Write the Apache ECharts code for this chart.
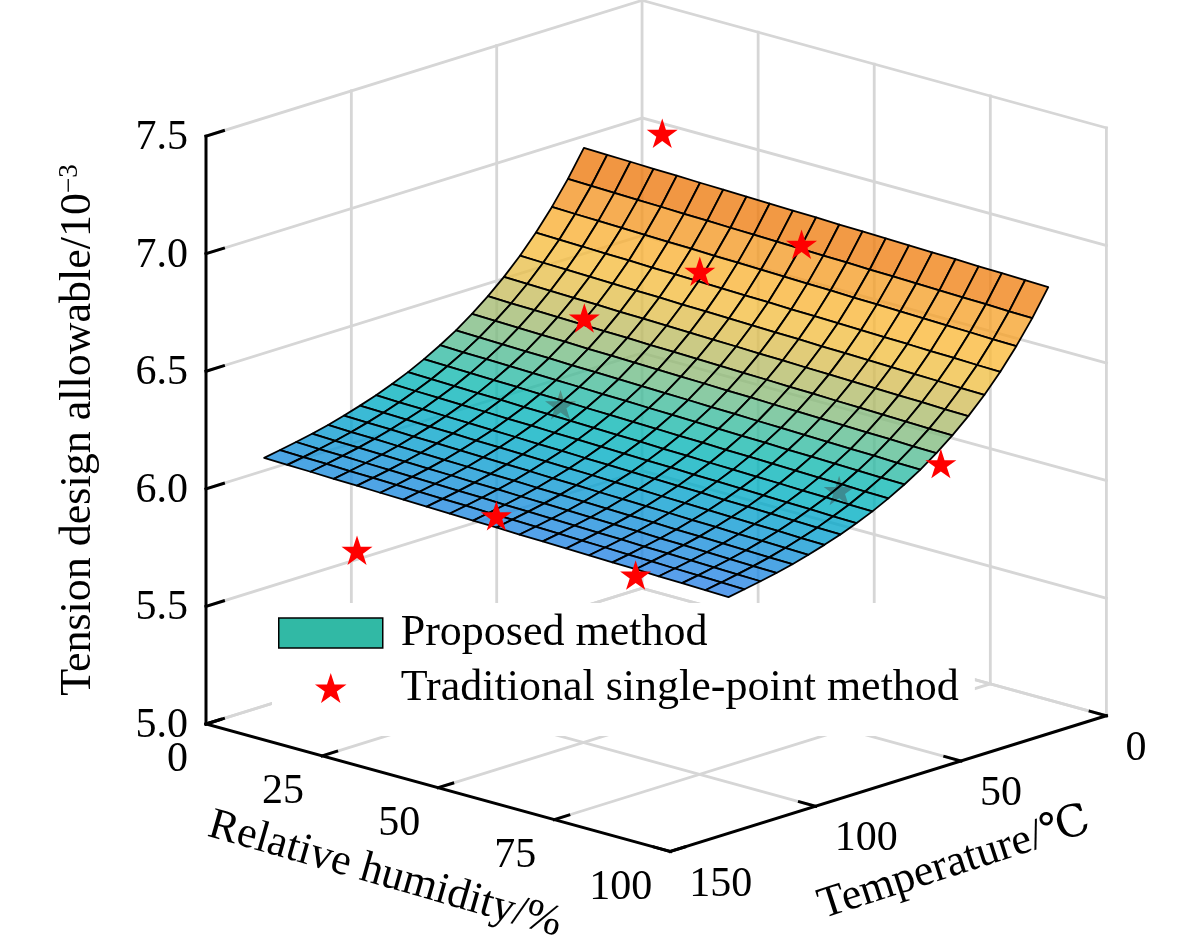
<!DOCTYPE html>
<html>
<head>
<meta charset="utf-8">
<title>Tension design allowable surface</title>
<script src="https://cdn.jsdelivr.net/npm/echarts@6/dist/echarts.min.js"></script>
<style>
html, body { margin: 0; padding: 0; background: #fff; }
#main { width: 1181px; height: 952px; }
</style>
</head>
<body>
<div id="main"></div>
<script>
// ---- data ----
var humidityTicks = [0, 25, 50, 75, 100];
var temperatureTicks = [0, 50, 100, 150];
var allowableTicks = [5.0, 5.5, 6.0, 6.5, 7.0, 7.5];

// surface grid (Proposed method): columns = relative humidity, rows = temperature
var humidityGrid = [0, 5, 10, 15, 20, 25, 30, 35, 40, 45, 50, 55, 60, 65, 70, 75, 80, 85, 90, 95, 100];
var temperatureGrid = [20, 25.5, 31, 36.5, 42, 47.5, 53, 58.5, 64, 69.5, 75, 80.5, 86, 91.5, 97, 102.5, 108, 113.5, 119, 124.5, 130];
var allowableSurface = [
  [6.950,6.947,6.945,6.942,6.940,6.937,6.935,6.932,6.930,6.927,6.925,6.922,6.920,6.917,6.915,6.912,6.910,6.907,6.905,6.902,6.900],
  [6.839,6.836,6.834,6.831,6.829,6.826,6.824,6.821,6.819,6.816,6.814,6.811,6.809,6.806,6.804,6.801,6.799,6.796,6.794,6.791,6.789],
  [6.741,6.738,6.736,6.733,6.731,6.728,6.726,6.723,6.721,6.718,6.716,6.713,6.711,6.708,6.706,6.703,6.701,6.698,6.696,6.693,6.691],
  [6.653,6.650,6.648,6.645,6.643,6.640,6.638,6.635,6.633,6.630,6.628,6.625,6.623,6.620,6.618,6.615,6.613,6.610,6.608,6.605,6.603],
  [6.576,6.573,6.571,6.568,6.566,6.563,6.561,6.558,6.556,6.553,6.551,6.548,6.546,6.543,6.541,6.538,6.536,6.533,6.531,6.528,6.526],
  [6.507,6.504,6.502,6.499,6.497,6.494,6.492,6.489,6.487,6.484,6.482,6.479,6.477,6.474,6.472,6.469,6.467,6.464,6.462,6.459,6.457],
  [6.446,6.443,6.441,6.438,6.436,6.433,6.431,6.428,6.426,6.423,6.421,6.418,6.416,6.413,6.411,6.408,6.406,6.403,6.401,6.398,6.396],
  [6.392,6.389,6.387,6.384,6.382,6.379,6.377,6.374,6.372,6.369,6.367,6.364,6.362,6.359,6.357,6.354,6.352,6.349,6.347,6.344,6.342],
  [6.343,6.340,6.338,6.335,6.333,6.330,6.328,6.325,6.323,6.320,6.318,6.315,6.313,6.310,6.308,6.305,6.303,6.300,6.298,6.295,6.293],
  [6.301,6.298,6.296,6.293,6.291,6.288,6.286,6.283,6.281,6.278,6.276,6.273,6.271,6.268,6.266,6.263,6.261,6.258,6.256,6.253,6.251],
  [6.263,6.260,6.258,6.255,6.253,6.250,6.248,6.245,6.243,6.240,6.238,6.235,6.233,6.230,6.228,6.225,6.223,6.220,6.218,6.215,6.213],
  [6.229,6.226,6.224,6.221,6.219,6.216,6.214,6.211,6.209,6.206,6.204,6.201,6.199,6.196,6.194,6.191,6.189,6.186,6.184,6.181,6.179],
  [6.200,6.197,6.195,6.192,6.190,6.187,6.185,6.182,6.180,6.177,6.175,6.172,6.170,6.167,6.165,6.162,6.160,6.157,6.155,6.152,6.150],
  [6.173,6.170,6.168,6.165,6.163,6.160,6.158,6.155,6.153,6.150,6.148,6.145,6.143,6.140,6.138,6.135,6.133,6.130,6.128,6.125,6.123],
  [6.150,6.147,6.145,6.142,6.140,6.137,6.135,6.132,6.130,6.127,6.125,6.122,6.120,6.117,6.115,6.112,6.110,6.107,6.105,6.102,6.100],
  [6.129,6.126,6.124,6.121,6.119,6.116,6.114,6.111,6.109,6.106,6.104,6.101,6.099,6.096,6.094,6.091,6.089,6.086,6.084,6.081,6.079],
  [6.110,6.107,6.105,6.102,6.100,6.097,6.095,6.092,6.090,6.087,6.085,6.082,6.080,6.077,6.075,6.072,6.070,6.067,6.065,6.062,6.060],
  [6.094,6.091,6.089,6.086,6.084,6.081,6.079,6.076,6.074,6.071,6.069,6.066,6.064,6.061,6.059,6.056,6.054,6.051,6.049,6.046,6.044],
  [6.080,6.077,6.075,6.072,6.070,6.067,6.065,6.062,6.060,6.057,6.055,6.052,6.050,6.047,6.045,6.042,6.040,6.037,6.035,6.032,6.030],
  [6.067,6.064,6.062,6.059,6.057,6.054,6.052,6.049,6.047,6.044,6.042,6.039,6.037,6.034,6.032,6.029,6.027,6.024,6.022,6.019,6.017],
  [6.055,6.052,6.050,6.047,6.045,6.042,6.040,6.037,6.035,6.032,6.030,6.027,6.025,6.022,6.020,6.017,6.015,6.012,6.010,6.007,6.005]
];

// Traditional single-point method
var pointHumidity = [20, 50, 80, 20, 50, 80, 20, 50, 80, 22];
var pointTemperature = [25, 25, 25, 60, 60, 60, 130, 130, 130, 55];
var pointAllowable = [7.14, 6.83, 6.06, 6.12, 6.85, 6.08, 5.77, 6.08, 5.99, 6.48];

// ---- view (orthographic, like a matlab view) ----
var AZ = 43.2 * Math.PI / 180;
var EL = 17 * Math.PI / 180;
var BOX_H = 0.965;
var SCALE = 637;            // px per box side
var ORIGIN_PX = [206, 724]; // where the (0 %, 150 C, 5.0) corner sits
var W = 1181, H = 952;
var FACE_ALPHA = 0.78;

var HUM_MIN = humidityTicks[0], HUM_MAX = humidityTicks[humidityTicks.length - 1];
var TEMP_MIN = temperatureTicks[0], TEMP_MAX = temperatureTicks[temperatureTicks.length - 1];
var VAL_MIN = allowableTicks[0], VAL_MAX = allowableTicks[allowableTicks.length - 1];

var FONT = '"Times New Roman", "Liberation Serif", "DejaVu Serif", "Noto Sans CJK SC", serif';
var STAR = 'path://M0,-10L2.245,-3.09L9.511,-3.09L3.633,1.18L5.878,8.09L0,3.82L-5.878,8.09L-3.633,1.18L-9.511,-3.09L-2.245,-3.09Z';

function norm(h, t, v) {
	return [(h - HUM_MIN) / (HUM_MAX - HUM_MIN), (t - TEMP_MIN) / (TEMP_MAX - TEMP_MIN), (v - VAL_MIN) / (VAL_MAX - VAL_MIN)];
}
function project(h, t, v) {
	var n = norm(h, t, v);
	var a = n[0] * Math.sin(AZ) + n[1] * Math.cos(AZ);
	return [n[0] * Math.cos(AZ) - n[1] * Math.sin(AZ), a * Math.sin(EL) - n[2] * BOX_H * Math.cos(EL)];
}
function depth(h, t, v) {
	var n = norm(h, t, v);
	var a = n[0] * Math.sin(AZ) + n[1] * Math.cos(AZ);
	return a * Math.cos(EL) + n[2] * BOX_H * Math.sin(EL);
}

function surfaceValueAt(h, t) {
	var nh = humidityGrid.length, nt = temperatureGrid.length;
	if (h < humidityGrid[0] || h > humidityGrid[nh - 1] || t < temperatureGrid[0] || t > temperatureGrid[nt - 1]) return null;
	var i = 0, j = 0;
	while (i < nh - 2 && humidityGrid[i + 1] < h) i++;
	while (j < nt - 2 && temperatureGrid[j + 1] < t) j++;
	var fh = (h - humidityGrid[i]) / (humidityGrid[i + 1] - humidityGrid[i]);
	var ft = (t - temperatureGrid[j]) / (temperatureGrid[j + 1] - temperatureGrid[j]);
	var s = allowableSurface;
	return (s[j][i] * (1 - fh) + s[j][i + 1] * fh) * (1 - ft) + (s[j + 1][i] * (1 - fh) + s[j + 1][i + 1] * fh) * ft;
}
// is the point covered by the surface when seen from the viewer?
function behindSurface(h, t, v) {
	var sv0 = surfaceValueAt(h, t);
	if (sv0 === null || v >= sv0) return false;
	for (var s = 0.005; s < 2; s += 0.005) {
		var hh = h + s * Math.cos(EL) * Math.sin(AZ) * (HUM_MAX - HUM_MIN);
		var tt = t + s * Math.cos(EL) * Math.cos(AZ) * (TEMP_MAX - TEMP_MIN);
		var vv = v + s * Math.sin(EL) / BOX_H * (VAL_MAX - VAL_MIN);
		var sv = surfaceValueAt(hh, tt);
		if (sv === null) return false;
		if (vv >= sv) return true;
	}
	return false;
}

// colormap (blue -> teal -> yellow -> orange), drawn with FACE_ALPHA over white
var cmap = [
	[0.00, [46, 129, 233]], [0.06, [24, 142, 219]], [0.11, [8, 158, 208]], [0.17, [0, 174, 195]],
	[0.24, [10, 183, 179]], [0.30, [55, 187, 159]], [0.36, [110, 188, 136]], [0.43, [160, 186, 113]],
	[0.50, [202, 188, 92]], [0.58, [238, 192, 70]], [0.68, [250, 186, 58]], [0.78, [246, 163, 43]],
	[0.88, [240, 133, 23]], [1.00, [233, 106, 1]]
];
var surfMin = Infinity, surfMax = -Infinity;
allowableSurface.forEach(function (row) {
	row.forEach(function (v) { surfMin = Math.min(surfMin, v); surfMax = Math.max(surfMax, v); });
});
function faceColor(v) {
	var f = Math.max(0, Math.min(1, (v - surfMin) / (surfMax - surfMin)));
	for (var k = 1; k < cmap.length; k++) {
		if (f <= cmap[k][0]) {
			var a = cmap[k - 1], b = cmap[k];
			var r = (f - a[0]) / (b[0] - a[0]);
			var c = [0, 1, 2].map(function (q) { return Math.round(a[1][q] + (b[1][q] - a[1][q]) * r); });
			return 'rgba(' + c.join(',') + ',' + FACE_ALPHA + ')';
		}
	}
	return 'rgba(233,106,1,' + FACE_ALPHA + ')';
}

// ---- box: back walls, floor grid, axes ----
var gridSegs = [];
allowableTicks.forEach(function (v) {
	gridSegs.push([HUM_MIN, TEMP_MAX, v, HUM_MIN, TEMP_MIN, v]);
	gridSegs.push([HUM_MIN, TEMP_MIN, v, HUM_MAX, TEMP_MIN, v]);
});
temperatureTicks.forEach(function (t) {
	if (t === TEMP_MAX) return;
	gridSegs.push([HUM_MIN, t, VAL_MIN, HUM_MIN, t, VAL_MAX]);
	gridSegs.push([HUM_MIN, t, VAL_MIN, HUM_MAX, t, VAL_MIN]);
});
humidityTicks.forEach(function (h) {
	if (h !== HUM_MIN) gridSegs.push([h, TEMP_MIN, VAL_MIN, h, TEMP_MIN, VAL_MAX]);
	if (h !== HUM_MAX) gridSegs.push([h, TEMP_MIN, VAL_MIN, h, TEMP_MAX, VAL_MIN]);
});

var axisSegs = [
	[HUM_MIN, TEMP_MAX, VAL_MIN, HUM_MIN, TEMP_MAX, VAL_MAX],
	[HUM_MIN, TEMP_MAX, VAL_MIN, HUM_MAX, TEMP_MAX, VAL_MIN],
	[HUM_MAX, TEMP_MAX, VAL_MIN, HUM_MAX, TEMP_MIN, VAL_MIN]
];
allowableTicks.forEach(function (v) { axisSegs.push([HUM_MIN, TEMP_MAX, v, HUM_MIN, TEMP_MAX - 6, v]); });
humidityTicks.forEach(function (h) { axisSegs.push([h, TEMP_MAX, VAL_MIN, h, TEMP_MAX - 5, VAL_MIN]); });
temperatureTicks.forEach(function (t) { axisSegs.push([HUM_MAX, t, VAL_MIN, HUM_MAX - 3.5, t, VAL_MIN]); });

function segSeries(name, segs, color, width, z) {
	return {
		type: 'custom',
		name: name,
		coordinateSystem: 'cartesian2d',
		silent: true,
		z: z,
		data: segs.map(function (s) {
			var a = project(s[0], s[1], s[2]), b = project(s[3], s[4], s[5]);
			return [a[0], a[1], b[0], b[1]];
		}),
		renderItem: function (params, api) {
			var p1 = api.coord([api.value(0), api.value(1)]);
			var p2 = api.coord([api.value(2), api.value(3)]);
			return {
				type: 'line',
				shape: { x1: p1[0], y1: p1[1], x2: p2[0], y2: p2[1] },
				style: { stroke: color, lineWidth: width, lineCap: 'square' }
			};
		}
	};
}

// ---- surface cells, far ones first ----
var cells = [];
for (var j = 0; j < temperatureGrid.length - 1; j++) {
	for (var i = 0; i < humidityGrid.length - 1; i++) {
		var hc = (humidityGrid[i] + humidityGrid[i + 1]) / 2;
		var tc = (temperatureGrid[j] + temperatureGrid[j + 1]) / 2;
		var vc = (allowableSurface[j][i] + allowableSurface[j][i + 1] + allowableSurface[j + 1][i] + allowableSurface[j + 1][i + 1]) / 4;
		var pc = project(hc, tc, vc);
		cells.push({ d: depth(hc, tc, vc), item: [pc[0], pc[1], i, j] });
	}
}
cells.sort(function (a, b) { return a.d - b.d; });

// ---- stars ----
var starsBack = [], starsFront = [];
pointHumidity.forEach(function (h, k) {
	var p = project(h, pointTemperature[k], pointAllowable[k]);
	if (behindSurface(h, pointTemperature[k], pointAllowable[k])) starsBack.push(p);
	else starsFront.push(p);
});

// ---- texts ----
var labelItems = [];
allowableTicks.forEach(function (v, k) { var p = project(HUM_MIN, TEMP_MAX, v); labelItems.push([p[0], p[1], 0, k]); });
humidityTicks.forEach(function (h, k) { var p = project(h, TEMP_MAX, VAL_MIN); labelItems.push([p[0], p[1], 1, k]); });
temperatureTicks.forEach(function (t, k) { var p = project(HUM_MAX, t, VAL_MIN); labelItems.push([p[0], p[1], 2, k]); });
(function () {
	var p = project(HUM_MIN, TEMP_MAX, (VAL_MIN + VAL_MAX) / 2); labelItems.push([p[0], p[1], 3, 0]);
	p = project((HUM_MIN + HUM_MAX) / 2, TEMP_MAX, VAL_MIN); labelItems.push([p[0], p[1], 4, 0]);
	p = project(HUM_MAX, (TEMP_MIN + TEMP_MAX) / 2, VAL_MIN); labelItems.push([p[0], p[1], 5, 0]);
})();

function renderLabel(params, api) {
	var p = api.coord([api.value(0), api.value(1)]);
	var kind = api.value(2), k = api.value(3);
	var base = { fill: '#000', fontFamily: FONT, fontSize: 42 };
	if (kind === 0) {
		return { type: 'text', x: p[0] - 18, y: p[1] + 2, style: Object.assign(base, { text: allowableTicks[k].toFixed(1), align: 'right', verticalAlign: 'middle' }) };
	}
	if (kind === 1) {
		return { type: 'text', x: p[0] - 18, y: p[1] + 36, style: Object.assign(base, { text: String(humidityTicks[k]), align: 'right', verticalAlign: 'middle' }) };
	}
	if (kind === 2) {
		return { type: 'text', x: p[0] + 19, y: p[1] + 33, style: Object.assign(base, { text: String(temperatureTicks[k]), align: 'left', verticalAlign: 'middle' }) };
	}
	if (kind === 3) {
		return {
			type: 'text', x: p[0] - 128, y: p[1], rotation: Math.PI / 2,
			style: {
				text: '{a|Tension design allowable/10}{b|\u22123}',
				rich: {
					a: { fill: '#000', fontFamily: FONT, fontSize: 44 },
					b: { fill: '#000', fontFamily: FONT, fontSize: 27, verticalAlign: 'top' }
				},
				align: 'center', verticalAlign: 'middle'
			}
		};
	}
	if (kind === 4) {
		return { type: 'text', x: p[0] - 53, y: p[1] + 87, rotation: -16 * Math.PI / 180, style: Object.assign(base, { text: 'Relative humidity/%', fontSize: 44, align: 'center', verticalAlign: 'middle' }) };
	}
	return { type: 'text', x: p[0] + 66, y: p[1] + 80, rotation: 18 * Math.PI / 180, style: Object.assign(base, { text: 'Temperature/\u2103', fontSize: 44, align: 'center', verticalAlign: 'middle' }) };
}

var c0 = project(HUM_MIN, TEMP_MAX, VAL_MIN);
var X_MIN = c0[0] - ORIGIN_PX[0] / SCALE, X_MAX = X_MIN + W / SCALE;
var Y_MIN = c0[1] - ORIGIN_PX[1] / SCALE, Y_MAX = Y_MIN + H / SCALE;

var chart = echarts.init(document.getElementById('main'));
chart.setOption({
	animation: false,
	backgroundColor: '#fff',
	grid: { left: 0, top: 0, width: W, height: H, containLabel: false },
	xAxis: { type: 'value', min: X_MIN, max: X_MAX, show: false },
	yAxis: { type: 'value', min: Y_MIN, max: Y_MAX, inverse: true, show: false },
	legend: {
		orient: 'vertical',
		left: 272,
		top: 603,
		padding: [8, 16, 26, 6],
		itemWidth: 104,
		itemHeight: 30,
		itemGap: 11,
		backgroundColor: '#fff',
		selectedMode: false,
		symbolKeepAspect: true,
		z: 10,
		textStyle: { color: '#000', fontFamily: FONT, fontSize: 44, padding: [0, 0, 0, 13] },
		data: [
			{ name: 'Proposed method', icon: 'rect', itemStyle: { color: '#31b9a5', borderColor: '#000', borderWidth: 1.5, opacity: 1 } },
			{ name: 'Traditional single-point method', icon: STAR, itemStyle: { color: '#ff0000', opacity: 1 } }
		]
	},
	series: [
		segSeries('walls', gridSegs, '#d6d6d6', 2.8, 1),
		{
			type: 'scatter',
			name: 'Traditional single-point method',
			data: starsBack,
			symbol: STAR,
			symbolSize: 31,
			symbolKeepAspect: true,
			itemStyle: { color: '#ff0000', opacity: 1 },
			silent: true,
			z: 2
		},
		{
			type: 'custom',
			name: 'Proposed method',
			coordinateSystem: 'cartesian2d',
			progressive: 0,
			silent: true,
			z: 3,
			itemStyle: { color: '#31b9a5' },
			data: cells.map(function (c) { return c.item; }),
			renderItem: function (params, api) {
				var i = api.value(2), j = api.value(3);
				var corners = [[i, j], [i + 1, j], [i + 1, j + 1], [i, j + 1]].map(function (q) {
					return api.coord(project(humidityGrid[q[0]], temperatureGrid[q[1]], allowableSurface[q[1]][q[0]]));
				});
				var v = (allowableSurface[j][i] + allowableSurface[j][i + 1] + allowableSurface[j + 1][i] + allowableSurface[j + 1][i + 1]) / 4;
				return {
					type: 'polygon',
					shape: { points: corners },
					style: { fill: faceColor(v), stroke: '#000', lineWidth: 1.8, lineJoin: 'round' }
				};
			}
		},
		{
			type: 'scatter',
			name: 'Traditional single-point method',
			data: starsFront,
			symbol: STAR,
			symbolSize: 31,
			symbolKeepAspect: true,
			itemStyle: { color: '#ff0000', opacity: 1 },
			silent: true,
			z: 4
		},
		segSeries('axes', axisSegs, '#000', 3, 5),
		{
			type: 'custom',
			name: 'labels',
			coordinateSystem: 'cartesian2d',
			silent: true,
			z: 6,
			data: labelItems,
			renderItem: renderLabel
		}
	]
});
</script>
</body>
</html>
